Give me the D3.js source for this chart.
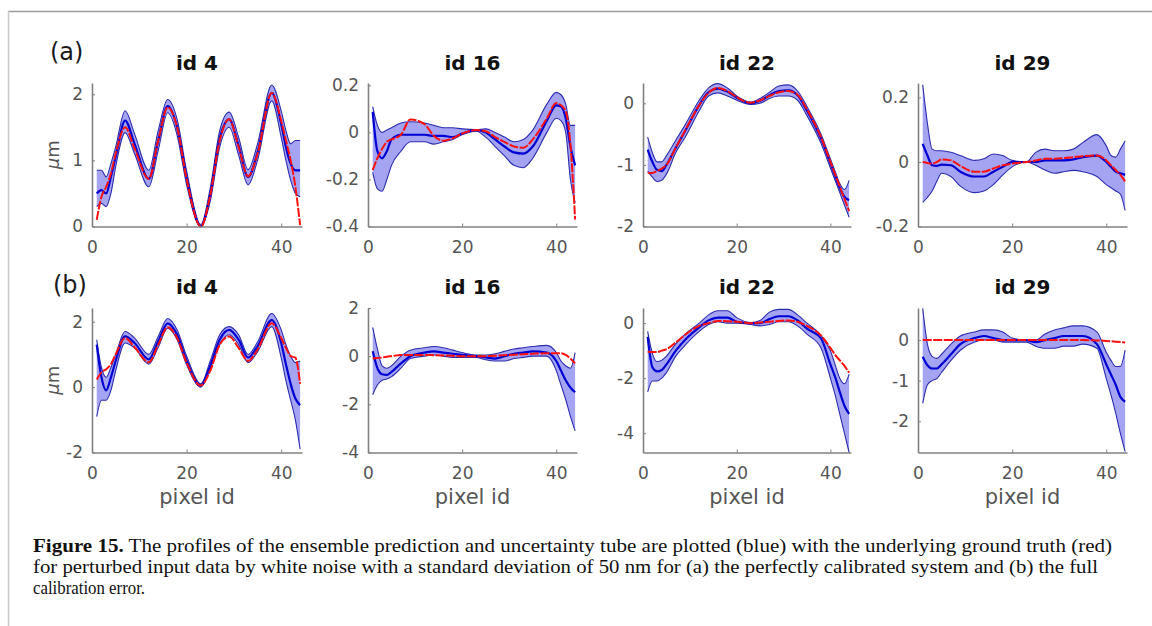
<!DOCTYPE html>
<html>
<head>
<meta charset="utf-8">
<script src="https://cdn.jsdelivr.net/npm/d3@7"></script>
<style>
  body { margin: 0; background: #fff; }
  .tick text { font-family: "DejaVu Sans", sans-serif; font-size: 17px; fill: #555; }
</style>
</head>
<body>
<svg id="fig" width="1152" height="626"></svg>
<script>
var pixelIds = [1, 2, 3, 4, 5, 7, 9, 12, 14, 16, 18, 20, 23, 25, 27, 29, 31, 33, 35, 38, 40, 41, 42, 43, 44];
var xTicks = [0, 20, 40];

// (a) perfectly calibrated system
var aId4Truth = [0.1, 0.45, 0.6, 0.8, 1.1, 1.5, 1.18, 0.72, 1.3, 1.8, 1.5, 0.72, 0.0, 0.47, 1.3, 1.62, 1.2, 0.76, 1.1, 2.02, 1.6, 1.3, 1.0, 0.6, 0.02];
var aId4Mean  = [0.5, 0.55, 0.5, 0.75, 1.05, 1.6, 1.25, 0.72, 1.3, 1.82, 1.5, 0.74, 0.0, 0.48, 1.33, 1.62, 1.22, 0.75, 1.12, 2.02, 1.55, 1.2, 0.95, 0.85, 0.85];
var aId4Hi    = [0.85, 0.85, 0.75, 0.95, 1.2, 1.75, 1.4, 0.85, 1.45, 1.92, 1.62, 0.84, 0.03, 0.58, 1.45, 1.73, 1.35, 0.86, 1.25, 2.14, 1.75, 1.45, 1.25, 1.3, 1.3];
var aId4Lo    = [0.3, 0.35, 0.3, 0.5, 0.9, 1.42, 1.1, 0.6, 1.15, 1.72, 1.38, 0.63, 0.0, 0.38, 1.2, 1.5, 1.08, 0.63, 1.0, 1.9, 1.35, 1.0, 0.7, 0.5, 0.45];

var aId16Truth = [-0.16, -0.11, -0.07, -0.04, -0.03, -0.01, 0.055, 0.035, -0.015, -0.035, -0.025, -0.005, 0.01, 0.005, -0.02, -0.04, -0.06, -0.065, -0.03, 0.06, 0.125, 0.115, 0.09, -0.05, -0.37];
var aId16Mean  = [0.087, -0.08, -0.11, -0.08, -0.03, -0.01, -0.01, -0.01, -0.015, -0.015, -0.02, -0.005, 0.01, 0.0, -0.03, -0.06, -0.085, -0.09, -0.06, 0.05, 0.115, 0.11, 0.06, -0.06, -0.14];
var aId16Hi    = [0.11, 0.03, 0.0, 0.01, 0.02, 0.04, 0.045, 0.04, 0.03, 0.02, 0.02, 0.015, 0.012, 0.015, 0.0, -0.02, -0.04, -0.03, 0.01, 0.12, 0.17, 0.16, 0.12, 0.03, 0.03];
var aId16Lo    = [-0.17, -0.24, -0.25, -0.2, -0.14, -0.08, -0.04, -0.04, -0.05, -0.04, -0.03, -0.01, 0.005, -0.02, -0.06, -0.1, -0.14, -0.15, -0.11, 0.0, 0.06, 0.05, 0.0, -0.2, -0.3];

var aId22Truth = [-1.13, -1.13, -1.1, -1.06, -1.0, -0.72, -0.44, -0.03, 0.17, 0.25, 0.2, 0.1, 0.01, 0.05, 0.12, 0.18, 0.2, 0.14, -0.1, -0.55, -0.95, -1.15, -1.35, -1.55, -1.75];
var aId22Mean  = [-0.75, -0.95, -1.08, -1.1, -1.0, -0.72, -0.45, -0.03, 0.18, 0.24, 0.19, 0.09, 0.0, 0.04, 0.13, 0.2, 0.21, 0.13, -0.12, -0.57, -0.97, -1.17, -1.37, -1.52, -1.57];
var aId22Hi    = [-0.55, -0.8, -0.95, -0.95, -0.85, -0.6, -0.35, 0.05, 0.25, 0.32, 0.25, 0.12, 0.02, 0.08, 0.18, 0.28, 0.3, 0.2, -0.05, -0.5, -0.9, -1.1, -1.3, -1.4, -1.25];
var aId22Lo    = [-1.1, -1.2, -1.27, -1.25, -1.15, -0.8, -0.55, -0.12, 0.12, 0.17, 0.12, 0.05, -0.02, 0.0, 0.08, 0.12, 0.12, 0.05, -0.2, -0.65, -1.05, -1.25, -1.45, -1.65, -1.85];

var aId29Truth = [0.0, -0.003, -0.005, 0.0, 0.008, 0.005, -0.012, -0.03, -0.03, -0.02, -0.01, -0.005, 0.0, 0.005, 0.01, 0.01, 0.012, 0.015, 0.018, 0.02, 0.005, -0.01, -0.025, -0.04, -0.06];
var aId29Mean  = [0.056, 0.02, -0.01, -0.012, -0.008, -0.01, -0.03, -0.045, -0.045, -0.03, -0.015, 0.0, 0.0, 0.0, 0.005, 0.005, 0.005, 0.008, 0.015, 0.02, 0.0, -0.015, -0.03, -0.035, -0.04];
var aId29Hi    = [0.24, 0.12, 0.04, 0.035, 0.035, 0.03, 0.02, 0.005, 0.01, 0.025, 0.02, 0.005, 0.0, 0.03, 0.04, 0.035, 0.035, 0.04, 0.06, 0.085, 0.05, 0.02, 0.015, 0.04, 0.065];
var aId29Lo    = [-0.125, -0.11, -0.09, -0.06, -0.035, -0.045, -0.075, -0.095, -0.09, -0.07, -0.04, -0.015, 0.0, -0.01, -0.025, -0.035, -0.03, -0.026, -0.03, -0.045, -0.07, -0.08, -0.09, -0.1, -0.15];

// (b) full calibration error
var bId4Truth = [0.23, 0.45, 0.55, 0.7, 1.0, 1.5, 1.22, 0.76, 1.3, 1.83, 1.5, 0.75, 0.05, 0.5, 1.3, 1.55, 1.2, 0.8, 1.15, 1.95, 1.5, 1.2, 0.95, 0.9, 0.1];
var bId4Mean  = [1.3, 0.3, -0.1, 0.3, 0.8, 1.55, 1.35, 0.85, 1.4, 1.95, 1.6, 0.8, 0.05, 0.65, 1.45, 1.75, 1.45, 0.9, 1.25, 2.05, 1.35, 0.7, 0.1, -0.35, -0.55];
var bId4Hi    = [1.45, 0.6, 0.3, 0.6, 1.0, 1.7, 1.5, 1.0, 1.55, 2.1, 1.75, 0.95, 0.1, 0.8, 1.6, 1.85, 1.6, 1.0, 1.38, 2.25, 1.75, 1.3, 0.95, 0.75, 0.8];
var bId4Lo    = [-0.9, -0.4, -0.4, -0.1, 0.5, 1.35, 1.2, 0.7, 1.22, 1.8, 1.45, 0.68, 0.0, 0.55, 1.3, 1.6, 1.3, 0.75, 1.08, 1.85, 0.9, 0.2, -0.4, -1.0, -1.9];

var bId16Truth = [-0.1, -0.08, -0.05, -0.02, 0.0, 0.05, 0.05, 0.05, 0.04, 0.03, 0.02, 0.0, 0.0, 0.0, 0.02, 0.04, 0.06, 0.08, 0.1, 0.12, 0.12, 0.12, 0.05, -0.1, -0.3];
var bId16Mean  = [0.2, -0.5, -0.75, -0.78, -0.65, -0.3, 0.0, 0.15, 0.2, 0.15, 0.1, 0.05, 0.0, -0.05, -0.1, 0.0, 0.1, 0.15, 0.2, 0.15, -0.2, -0.6, -1.0, -1.3, -1.5];
var bId16Hi    = [1.2, 0.3, -0.4, -0.5, -0.4, 0.0, 0.25, 0.35, 0.4, 0.35, 0.25, 0.15, 0.05, 0.05, 0.1, 0.2, 0.3, 0.35, 0.4, 0.45, 0.15, -0.2, -0.4, -0.5, 0.15];
var bId16Lo    = [-1.6, -1.2, -1.0, -0.95, -0.85, -0.5, -0.1, 0.0, 0.05, 0.0, -0.05, -0.05, -0.05, -0.15, -0.2, -0.2, -0.1, -0.05, 0.0, 0.0, -0.6, -1.2, -1.8, -2.5, -3.1];

var bId22Truth = [-1.03, -1.05, -1.05, -1.0, -0.95, -0.7, -0.42, -0.1, 0.0, 0.08, 0.07, 0.05, 0.0, 0.02, 0.05, 0.08, 0.1, 0.05, -0.1, -0.45, -0.9, -1.15, -1.35, -1.55, -1.8];
var bId22Mean  = [-0.5, -1.6, -1.75, -1.7, -1.5, -1.0, -0.6, -0.15, 0.1, 0.2, 0.2, 0.05, 0.0, 0.0, 0.15, 0.25, 0.25, 0.1, -0.2, -0.55, -1.5, -1.95, -2.5, -3.0, -3.3];
var bId22Hi    = [-0.3, -1.1, -1.4, -1.35, -1.2, -0.75, -0.4, 0.0, 0.3, 0.45, 0.45, 0.2, 0.02, 0.1, 0.4, 0.5, 0.5, 0.3, 0.0, -0.45, -1.0, -1.5, -2.0, -2.2, -1.85];
var bId22Lo    = [-2.5, -2.1, -2.1, -2.0, -1.8, -1.2, -0.8, -0.3, -0.05, 0.05, 0.0, 0.0, -0.05, -0.1, -0.05, 0.05, 0.05, -0.1, -0.4, -0.9, -2.0, -2.6, -3.3, -4.0, -4.7];

var bId29Truth = [0.0, 0.0, 0.0, 0.0, 0.0, 0.0, 0.0, 0.0, 0.0, 0.0, 0.0, 0.0, 0.0, 0.0, 0.0, 0.0, 0.0, 0.0, 0.0, -0.01, -0.02, -0.03, -0.04, -0.05, -0.06];
var bId29Mean  = [-0.41, -0.62, -0.7, -0.7, -0.6, -0.35, -0.1, 0.05, 0.1, 0.05, 0.0, 0.0, 0.0, -0.05, 0.0, 0.05, 0.1, 0.1, 0.1, -0.1, -0.6, -0.85, -1.1, -1.4, -1.52];
var bId29Hi    = [0.78, -0.1, -0.4, -0.45, -0.35, -0.1, 0.1, 0.2, 0.25, 0.25, 0.2, 0.05, 0.0, 0.0, 0.15, 0.25, 0.3, 0.35, 0.35, 0.2, -0.3, -0.5, -0.65, -0.65, -0.25];
var bId29Lo    = [-1.56, -1.1, -1.0, -0.95, -0.8, -0.5, -0.25, -0.05, 0.0, 0.0, -0.05, -0.05, -0.05, -0.15, -0.2, -0.2, -0.15, -0.15, -0.1, -0.2, -0.95, -1.35, -1.8, -2.3, -2.75];

var captionLines = [
  "The profiles of the ensemble prediction and uncertainty tube are plotted (blue) with the underlying ground truth (red)",
  "for perturbed input data by white noise with a standard deviation of 50 nm for (a) the perfectly calibrated system and (b) the full",
  "calibration error."
];

// layout of the 2x4 grid
var cols = [{x0: 92, x1: 302}, {x0: 368, x1: 577}, {x0: 643, x1: 851}, {x0: 918, x1: 1127}];
var rows = [{y0: 83, y1: 226.5, title: 63, tag: "(a)", tagX: 50, tagY: 60},
            {y0: 308, y1: 452.5, title: 287, tag: "(b)", tagX: 53, tagY: 293}];

var panels = [
  {row: 0, col: 0, name: "id 4",  ydom: [0, 2.17],     yticks: [0, 1, 2],            truth: aId4Truth,  mean: aId4Mean,  hi: aId4Hi,  lo: aId4Lo},
  {row: 0, col: 1, name: "id 16", ydom: [-0.4, 0.21],  yticks: [-0.4, -0.2, 0, 0.2], truth: aId16Truth, mean: aId16Mean, hi: aId16Hi, lo: aId16Lo},
  {row: 0, col: 2, name: "id 22", ydom: [-2, 0.33],    yticks: [-2, -1, 0],          truth: aId22Truth, mean: aId22Mean, hi: aId22Hi, lo: aId22Lo},
  {row: 0, col: 3, name: "id 29", ydom: [-0.2, 0.245], yticks: [-0.2, 0, 0.2],       truth: aId29Truth, mean: aId29Mean, hi: aId29Hi, lo: aId29Lo},
  {row: 1, col: 0, name: "id 4",  ydom: [-2, 2.42],    yticks: [-2, 0, 2],           truth: bId4Truth,  mean: bId4Mean,  hi: bId4Hi,  lo: bId4Lo},
  {row: 1, col: 1, name: "id 16", ydom: [-4, 2],       yticks: [-4, -2, 0, 2],       truth: bId16Truth, mean: bId16Mean, hi: bId16Hi, lo: bId16Lo},
  {row: 1, col: 2, name: "id 22", ydom: [-4.7, 0.55],  yticks: [-4, -2, 0],          truth: bId22Truth, mean: bId22Mean, hi: bId22Hi, lo: bId22Lo},
  {row: 1, col: 3, name: "id 29", ydom: [-2.77, 0.79], yticks: [-2, -1, 0],          truth: bId29Truth, mean: bId29Mean, hi: bId29Hi, lo: bId29Lo}
];

var svg = d3.select("#fig");

// page frame
svg.append("line").attr("x1", 8).attr("x2", 1152).attr("y1", 11.5).attr("y2", 11.5)
  .attr("stroke", "#9a9a9a").attr("stroke-width", 1.5);
svg.append("line").attr("x1", 8.5).attr("x2", 8.5).attr("y1", 11).attr("y2", 626)
  .attr("stroke", "#c8c8c8").attr("stroke-width", 1.5);

panels.forEach(function(p) {
  var c = cols[p.col], r = rows[p.row];
  var x = d3.scaleLinear().domain([0, 44.4]).range([c.x0, c.x1]);
  var y = d3.scaleLinear().domain(p.ydom).range([r.y1, r.y0]);

  var pts = pixelIds.map(function(id, i) {
    return {id: id, t: p.truth[i], m: p.mean[i], hi: p.hi[i], lo: p.lo[i]};
  });

  var g = svg.append("g");

  // uncertainty tube
  g.append("path").datum(pts)
    .attr("fill", "#a4a4f3")
    .attr("d", d3.area().curve(d3.curveMonotoneX)
      .x(d => x(d.id)).y0(d => y(d.lo)).y1(d => y(d.hi)));

  ["hi", "lo"].forEach(function(k) {
    g.append("path").datum(pts)
      .attr("fill", "none").attr("stroke", "#2c2cae").attr("stroke-width", 1.1)
      .attr("d", d3.line().curve(d3.curveMonotoneX).x(d => x(d.id)).y(d => y(d[k])));
  });

  // ensemble mean
  g.append("path").datum(pts)
    .attr("fill", "none").attr("stroke", "#0000d2").attr("stroke-width", 2.2)
    .attr("d", d3.line().curve(d3.curveMonotoneX).x(d => x(d.id)).y(d => y(d.m)));

  // ground truth
  g.append("path").datum(pts)
    .attr("fill", "none").attr("stroke", "#ff1010").attr("stroke-width", 2)
    .attr("stroke-dasharray", "9 1.5")
    .attr("d", d3.line().curve(d3.curveMonotoneX).x(d => x(d.id)).y(d => y(d.t)));

  // axes
  var xAxis = g.append("g")
    .attr("transform", `translate(0, ${r.y1})`)
    .call(d3.axisBottom(x).tickValues(xTicks).tickSizeInner(-3).tickSizeOuter(0).tickPadding(14));
  var yAxis = g.append("g")
    .attr("transform", `translate(${c.x0}, 0)`)
    .call(d3.axisLeft(y).tickValues(p.yticks).tickFormat(d => String(d))
      .tickSizeInner(-3).tickSizeOuter(0).tickPadding(9));
  [xAxis, yAxis].forEach(function(a) {
    a.select(".domain").attr("stroke", "#808080").attr("stroke-width", 1.6);
    a.selectAll(".tick line").attr("stroke", "#808080");
  });

  // panel title
  g.append("text")
    .attr("x", (c.x0 + c.x1) / 2).attr("y", r.title).attr("dy", "0.35em")
    .attr("text-anchor", "middle")
    .attr("font-family", "DejaVu Sans, sans-serif").attr("font-weight", "bold")
    .attr("font-size", "20px").attr("fill", "#111")
    .text(p.name);

  if (p.col === 0) {
    g.append("text")
      .attr("transform", `translate(53, ${(r.y0 + r.y1) / 2}) rotate(-90)`)
      .attr("dy", "0.35em").attr("text-anchor", "middle")
      .attr("font-family", "DejaVu Sans, sans-serif").attr("font-size", "18px").attr("fill", "#555")
      .html('<tspan font-style="italic">μ</tspan>m');
    svg.append("text")
      .attr("x", r.tagX).attr("y", r.tagY)
      .attr("font-family", "DejaVu Sans, sans-serif").attr("font-size", "24px").attr("fill", "#1a1a1a")
      .text(r.tag);
  }

  if (p.row === 1) {
    g.append("text")
      .attr("x", (c.x0 + c.x1) / 2).attr("y", 497).attr("dy", "0.35em")
      .attr("text-anchor", "middle")
      .attr("font-family", "DejaVu Sans, sans-serif").attr("font-size", "21px").attr("fill", "#555")
      .text("pixel id");
  }
});

// caption
var cap = svg.append("g")
  .attr("font-family", "Liberation Serif, serif").attr("font-size", "19px").attr("fill", "#111");
var capY = [552, 573, 594];
var capLen = [1079, 1065, 112];
captionLines.forEach(function(line, i) {
  var t = cap.append("text").attr("x", 33).attr("y", capY[i]);
  if (i === 0) {
    t.append("tspan").attr("font-weight", "bold").text("Figure 15.");
    t.append("tspan").text(" " + line);
  } else {
    t.text(line);
  }
  t.attr("textLength", capLen[i]).attr("lengthAdjust", "spacingAndGlyphs");
});
</script>
</body>
</html>
